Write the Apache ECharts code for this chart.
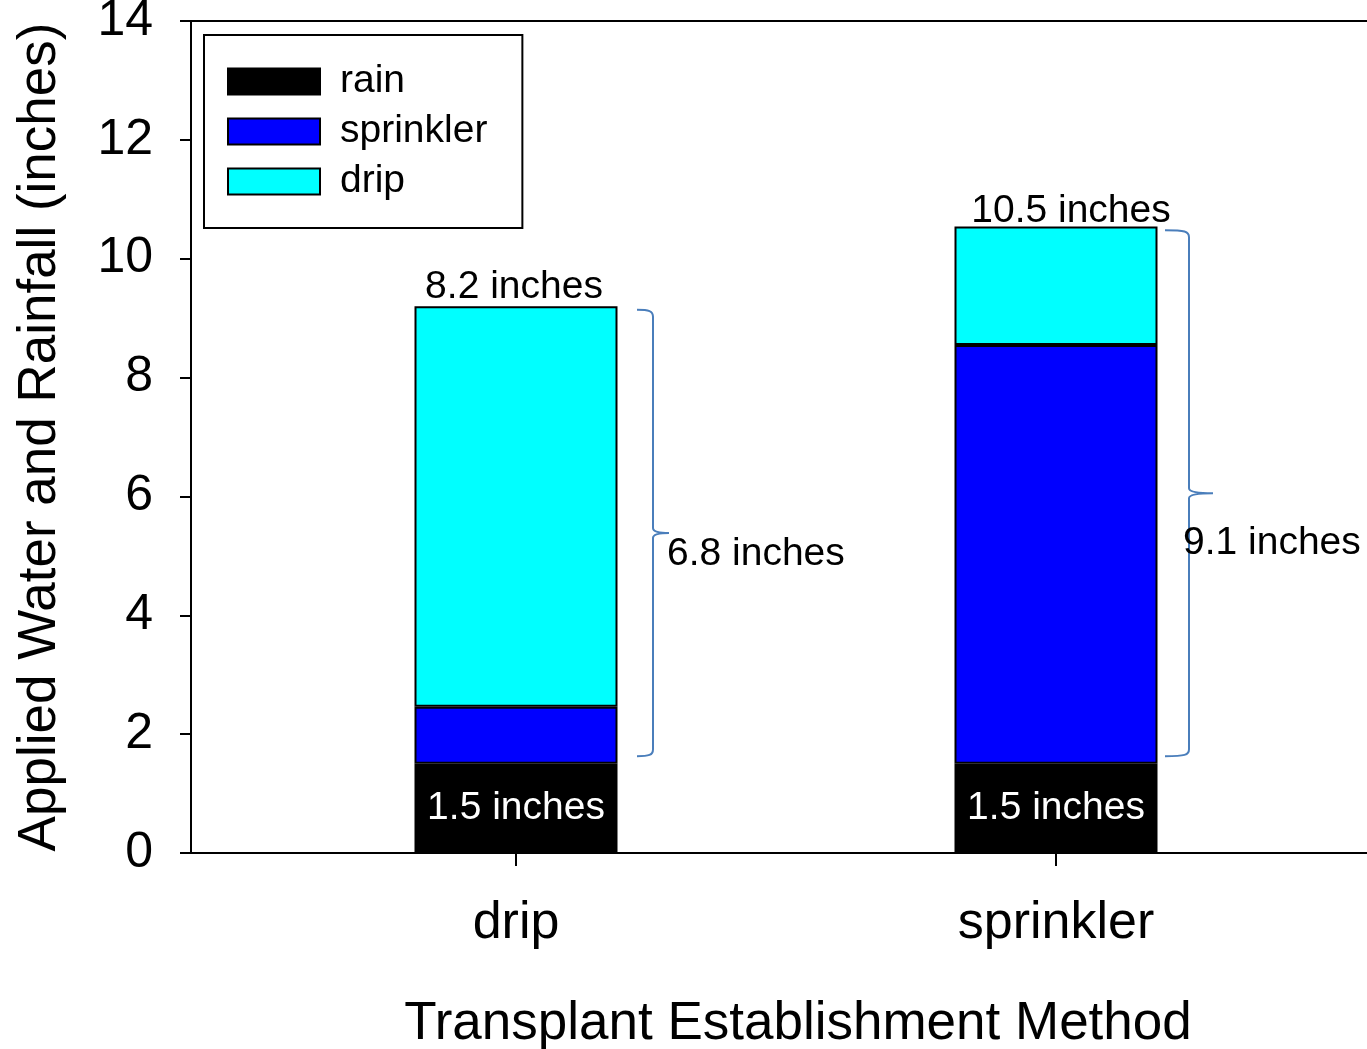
<!DOCTYPE html>
<html>
<head>
<meta charset="utf-8">
<script src="https://cdn.jsdelivr.net/npm/echarts@6/dist/echarts.min.js"></script>
<style>
html,body{margin:0;padding:0;background:#fff;}
#chart{width:1367px;height:1049px;}
</style>
</head>
<body>
<div id="chart"></div>
<script>
// ---- data ----
const categories = ['drip', 'sprinkler'];
const rainValues = [1.5, 1.5];
const sprinklerValues = [0.96, 7.05];
const dripValues = [6.74, 1.99];
const totalLabels = ['8.2 inches', '10.5 inches'];
const rainLabels = ['1.5 inches', '1.5 inches'];
const braceLow = [1.63, 1.63];
const braceHigh = [9.14, 10.48];
const braceLabels = ['6.8 inches', '9.1 inches'];
const yTicks = {min: 0, max: 14, interval: 2};

// ---- layout / style (not data) ----
const FONT = 'Liberation Sans';
const ANNOT = 39;
const topLabelOffsets = [[-2, 2], [15, 6]];
const braceGeom = [
  {left: 121, vert: 137, tip: 153, textX: 151, textDy: 21},
  {left: 109, vert: 133, tip: 157, textX: 127, textDy: 50}
];

const chart = echarts.init(document.getElementById('chart'), null, {renderer: 'canvas'});

function renderBrace(params, api) {
  const i = api.value(0);
  const top = api.coord([i, api.value(2)]);
  const bot = api.coord([i, api.value(1)]);
  const cx = top[0];
  const g = braceGeom[i];
  const L = cx + g.left, V = cx + g.vert, T = cx + g.tip;
  const yT = top[1], yB = bot[1], yM = (yT + yB) / 2;
  const d = [
    'M', L, yT,
    'C', V - 4, yT, V, yT + 1, V, yT + 7,
    'L', V, yM - 5,
    'Q', V, yM, T, yM,
    'Q', V, yM, V, yM + 5,
    'L', V, yB - 7,
    'C', V, yB - 1, V - 4, yB, L, yB
  ].join(' ');
  return {
    type: 'group',
    children: [
      {type: 'path', shape: {pathData: d}, style: {fill: 'none', stroke: '#4a7ebb', lineWidth: 2}},
      {type: 'text', x: cx + g.textX, y: yM + g.textDy,
       style: {text: braceLabels[i], fill: '#000', fontSize: ANNOT, fontFamily: FONT, align: 'left', verticalAlign: 'middle'}}
    ]
  };
}

const barBase = {
  type: 'bar', stack: 'total', xAxisIndex: 1, yAxisIndex: 1, barWidth: 203,
  itemStyle: {borderColor: '#000', borderWidth: 2}
};

const option = {
  backgroundColor: '#fff',
  animation: false,
  textStyle: {fontFamily: FONT},
  grid: [
    {left: 191, top: 21, right: -20, bottom: 196, outerBoundsMode: 'none', containLabel: false,
     show: true, borderColor: '#000', borderWidth: 2, backgroundColor: 'transparent'},
    {left: 246, top: 21, width: 1080, bottom: 196, outerBoundsMode: 'none', containLabel: false}
  ],
  legend: {
    orient: 'vertical', left: 204, top: 35,
    padding: [27, 35, 27, 23],
    borderColor: '#000', borderWidth: 2,
    itemWidth: 92, itemHeight: 26, itemGap: 11,
    icon: 'rect',
    textStyle: {fontSize: ANNOT, color: '#000', fontFamily: FONT, padding: [0, 0, 0, 15]},
    data: ['rain', 'sprinkler', 'drip']
  },
  xAxis: [
    {type: 'value', gridIndex: 0, min: 0, max: 1, axisLine: {show: true, lineStyle: {color: '#000', width: 2}},
     axisTick: {show: false}, axisLabel: {show: false}, splitLine: {show: false}},
    {type: 'category', gridIndex: 1, data: categories, boundaryGap: true,
     axisLine: {show: false},
     axisTick: {show: true, alignWithLabel: true, length: 13, lineStyle: {color: '#000', width: 2}},
     axisLabel: {fontSize: 52, color: '#000', margin: 45, fontFamily: FONT},
     name: 'Transplant Establishment Method', nameLocation: 'middle', nameGap: 145,
     nameTextStyle: {fontSize: 53, color: '#000', fontFamily: FONT, padding: [0, 0, 0, 24]}}
  ],
  yAxis: [
    {type: 'value', gridIndex: 0, min: yTicks.min, max: yTicks.max, interval: yTicks.interval,
     axisLine: {show: true, lineStyle: {color: '#000', width: 2}},
     axisTick: {show: true, inside: false, length: 11, lineStyle: {color: '#000', width: 2}},
     axisLabel: {fontSize: 50, color: '#000', margin: 38, fontFamily: FONT},
     splitLine: {show: false},
     name: 'Applied Water and Rainfall (inches)', nameLocation: 'middle', nameGap: 124,
     nameTextStyle: {fontSize: 53, color: '#000', fontFamily: FONT}},
    {type: 'value', gridIndex: 1, min: yTicks.min, max: yTicks.max, show: false}
  ],
  series: [
    Object.assign({}, barBase, {
      name: 'rain', data: rainValues,
      itemStyle: {color: '#000000', borderColor: '#000', borderWidth: 2},
      label: {show: true, position: 'inside', color: '#fff', fontSize: ANNOT, fontFamily: FONT,
              formatter: p => rainLabels[p.dataIndex]}
    }),
    Object.assign({}, barBase, {
      name: 'sprinkler', data: sprinklerValues,
      itemStyle: {color: '#0000FF', borderColor: '#000', borderWidth: 2}
    }),
    Object.assign({}, barBase, {
      name: 'drip',
      data: dripValues.map((v, i) => ({value: v, label: {offset: topLabelOffsets[i]}})),
      itemStyle: {color: '#00FFFF', borderColor: '#000', borderWidth: 2},
      label: {show: true, position: 'top', distance: 2, color: '#000', fontSize: ANNOT, fontFamily: FONT,
              formatter: p => totalLabels[p.dataIndex]}
    }),
    {
      type: 'custom', xAxisIndex: 1, yAxisIndex: 1, clip: false, silent: true,
      renderItem: renderBrace,
      data: categories.map((c, i) => [i, braceLow[i], braceHigh[i]]),
      z: 5
    }
  ]
};

chart.setOption(option);
</script>
</body>
</html>
